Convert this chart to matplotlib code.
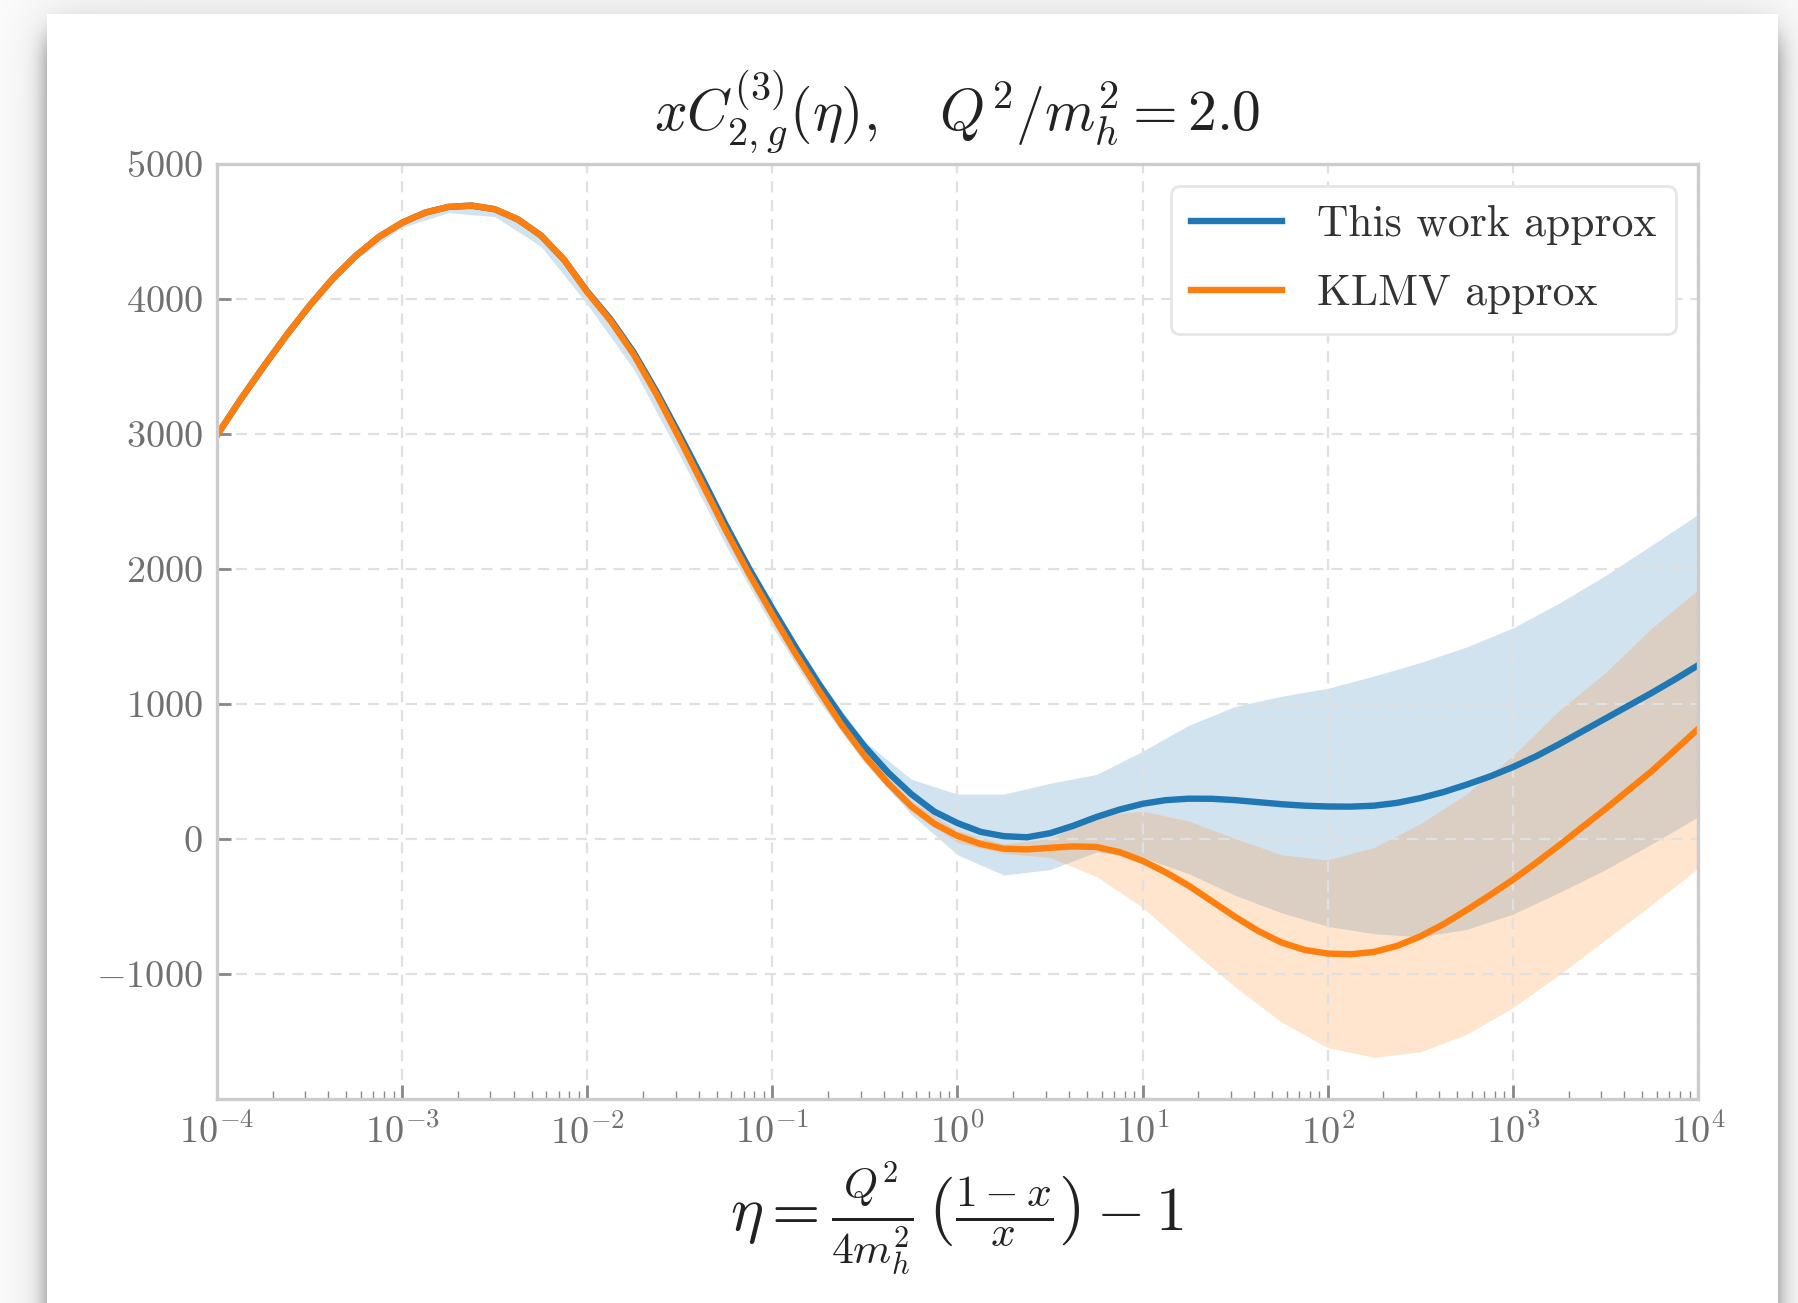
import math
import numpy as np
import matplotlib
matplotlib.use("Agg")
import matplotlib.pyplot as plt

plt.rcParams.update({
    "font.family": "serif",
    "font.serif": ["cmr10"],
    "mathtext.fontset": "cm",
    "axes.formatter.use_mathtext": True,
})

# central curves, sampled in log10(eta)
log_eta = [-4.0, -3.875, -3.75, -3.625, -3.5, -3.375, -3.25, -3.125, -3.0,
           -2.875, -2.75, -2.625, -2.5, -2.375, -2.25, -2.125, -2.0,
           -1.875, -1.75, -1.625, -1.5, -1.375, -1.25, -1.125, -1.0,
           -0.875, -0.75, -0.625, -0.5, -0.375, -0.25, -0.125, 0.0,
           0.125, 0.25, 0.375, 0.5, 0.625, 0.75, 0.875, 1.0,
           1.125, 1.25, 1.375, 1.5, 1.625, 1.75, 1.875, 2.0,
           2.125, 2.25, 2.375, 2.5, 2.625, 2.75, 2.875, 3.0,
           3.125, 3.25, 3.375, 3.5, 3.625, 3.75, 3.875, 4.0]

this_work = [2990, 3250, 3495, 3730, 3950, 4150, 4320, 4460, 4565,
             4640, 4682, 4692, 4665, 4590, 4470, 4290, 4055,
             3850, 3605, 3310, 2990, 2660, 2320, 2000, 1705,
             1420, 1150, 900, 680, 490, 330, 200, 115,
             50, 18, 10, 40, 95, 160, 215, 258,
             285, 296, 295, 285, 270, 255, 244, 238,
             237, 244, 265, 300, 345, 400, 460, 530,
             610, 700, 795, 890, 985, 1080, 1180, 1284]

klmv = [2990, 3250, 3495, 3730, 3950, 4150, 4320, 4460, 4565,
        4640, 4682, 4692, 4665, 4590, 4470, 4290, 4050,
        3840, 3590, 3290, 2960, 2620, 2280, 1960, 1660,
        1370, 1100, 840, 610, 410, 240, 110, 20,
        -40, -75, -80, -68, -58, -62, -100, -165,
        -250, -350, -465, -580, -685, -770, -825, -852,
        -857, -840, -795, -725, -635, -530, -420, -305,
        -180, -50, 85, 220, 360, 500, 655, 812]

# uncertainty bands, coarser sampling
band_log_eta = [-4.0, -3.75, -3.5, -3.25, -3.0, -2.75, -2.5, -2.25, -2.0, -1.75, -1.5,
                -1.25, -1.0, -0.75, -0.5, -0.25, 0.0, 0.25, 0.5, 0.75, 1.0, 1.25,
                1.5, 1.75, 2.0, 2.25, 2.5, 2.75, 3.0, 3.25, 3.5, 3.75, 4.0]

this_work_hi = [3000, 3505, 3960, 4330, 4575, 4692, 4675, 4480, 4065, 3615, 3005,
                2335, 1725, 1180, 720, 440, 330, 330, 410, 475, 648, 840,
                980, 1055, 1114, 1205, 1305, 1420, 1562, 1745, 1950, 2175, 2402]
this_work_lo = [2980, 3485, 3935, 4295, 4530, 4640, 4610, 4390, 3960, 3480, 2840,
                2170, 1570, 1020, 560, 180, -120, -270, -230, -100, -140, -260,
                -420, -550, -650, -705, -728, -673, -560, -400, -230, -40, 161]

klmv_hi = [3000, 3505, 3960, 4330, 4575, 4692, 4675, 4480, 4060, 3600, 2975,
           2295, 1680, 1125, 630, 280, 60, -40, 0, 170, 204, 130,
           0, -120, -158, -65, 110, 331, 614, 950, 1230, 1560, 1844]
klmv_lo = [2980, 3485, 3940, 4310, 4555, 4672, 4655, 4460, 4040, 3580, 2945,
           2265, 1640, 1075, 570, 200, -30, -110, -140, -280, -510, -810,
           -1100, -1360, -1550, -1621, -1580, -1451, -1253, -1010, -750, -490, -221]

yticks = [-1000, 0, 1000, 2000, 3000, 4000, 5000]

eta = 10.0 ** np.array(log_eta)
band_eta = 10.0 ** np.array(band_log_eta)

W, H = 1799, 1303
fig = plt.figure(figsize=(W / 200, H / 200), dpi=200, facecolor="white")

# card with drop shadow behind the plot
erf = np.vectorize(math.erf)
def step(u, s):
    return 0.5 * (1 + erf(u / (s * math.sqrt(2))))
xs = np.arange(W) + 0.5
ys = np.arange(H) + 0.5
cx0, cx1, cy0 = 47, 1778, 14
fx = step(xs - (cx0 + 4), 12) - step(xs - (cx1 - 4), 12)
fy = step(ys - (cy0 + 22), 14)
fxb = step(xs - cx0 + 20, 40) - step(xs - cx1 - 20, 40)
fyb = step(ys - cy0 + 30, 40)
alpha = 0.62 * np.outer(fy, fx) + 0.08 * np.outer(fyb, fxb)
img = 1.0 - np.clip(alpha, 0, 1)
card = np.zeros((H, W), bool)
card[cy0:, cx0:cx1] = True
img[card] = 1.0
rgb = np.dstack([img, img, img])
fig.figimage(rgb, 0, 0, zorder=-1)

ax = fig.add_axes([217 / W, 1 - 1099 / H, (1698 - 217) / W, (1099 - 164) / H])
ax.set_facecolor("white")

blue = "#1f77b4"
orange = "#ff7f0e"
ax.fill_between(band_eta, this_work_lo, this_work_hi, color=blue, alpha=0.2, lw=0)
ax.fill_between(band_eta, klmv_lo, klmv_hi, color=orange, alpha=0.2, lw=0)
ax.plot(eta, this_work, color=blue, lw=2.3, label="This work approx")
ax.plot(eta, klmv, color=orange, lw=2.3, label="KLMV approx")

ax.set_xscale("log")
ax.set_xlim(1e-4, 1e4)
ax.set_ylim(-1930, 5000)
ax.set_yticks(yticks)
ax.set_xticks([10.0 ** k for k in range(-4, 5)])

ax.grid(True, which="major", ls=(0, (5, 3.5)), color="#e0e0e0", lw=0.8)
for sp in ax.spines.values():
    sp.set_color("#cccccc")
    sp.set_linewidth(1.2)
ax.tick_params(which="major", direction="in", length=5, width=1.0,
               color="#888888", labelcolor="#707070", labelsize=13.8, pad=5)
ax.tick_params(which="minor", direction="in", length=3, width=0.5,
               color="#888888")
ax.tick_params(axis="y", which="minor", left=False)

ax.set_title(r"$xC^{(3)}_{2,g}(\eta),\quad Q^2/m_h^2 = 2.0$",
             fontsize=20.7, color="#222222", pad=12)
ax.set_xlabel(r"$\eta = \frac{Q^2}{4m_h^2}\,\left(\frac{1-x}{x}\right) - 1$",
              fontsize=22.4, color="#222222", labelpad=3)

leg = ax.legend(loc="upper right", fontsize=15.7, frameon=True, fancybox=True,
                framealpha=1.0, edgecolor="#e6e6e6", handlelength=2.1,
                handletextpad=0.8, borderpad=0.45, labelspacing=0.66)
for t in leg.get_texts():
    t.set_color("#333333")

fig.savefig("out.png", dpi=200)
